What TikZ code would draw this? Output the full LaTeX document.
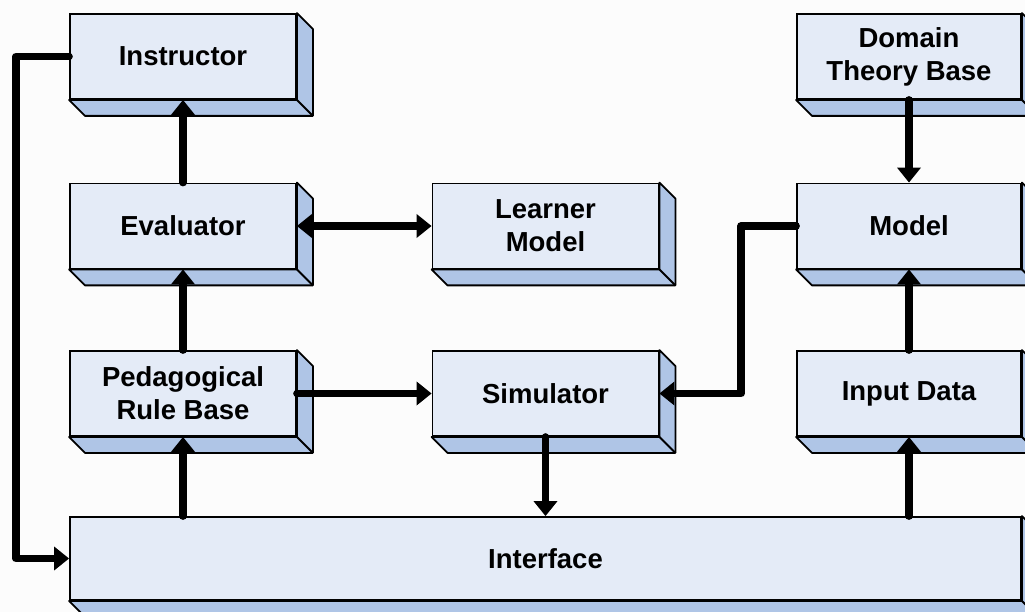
\documentclass[tikz,border=0pt]{standalone}
\usepackage{fontspec}
\setmainfont{Liberation Sans}
\usetikzlibrary{arrows.meta}
\definecolor{face}{HTML}{E4EBF7}
\definecolor{side}{HTML}{AFC5E6}
\definecolor{bg}{HTML}{FCFCFC}
\begin{document}
\begin{tikzpicture}[x=1pt,y=-1pt,
  blk/.style={draw=black, line width=1.8pt, fill=face, align=center,
    font=\fontsize{27.5}{33}\selectfont\bfseries, inner sep=0pt,
    minimum width=226pt, minimum height=85pt},
  sidepart/.style={draw=black, fill=side, line width=1.8pt, line join=round},
  arr/.style={line width=7.5pt, line cap=round, line join=round,
    -{Triangle[length=15pt,width=23pt]}},
  darr/.style={line width=7.5pt, line cap=round, line join=round,
    {Triangle[length=15pt,width=23pt]}-{Triangle[length=15pt,width=23pt]}}]
\useasboundingbox (0,0) rectangle (1025,612);
\clip (0,0) rectangle (1025,612);
\fill[bg] (0,0) rectangle (1025,612);

\node[blk] (instr) at (183,56.5) {Instructor};
\node[blk] (eval) at (183,226) {Evaluator};
\node[blk] (ped) at (183,393.5) {Pedagogical\\Rule Base};
\node[blk] (learn) at (545.5,226) {Learner\\Model};
\node[blk] (sim) at (545.5,393.5) {Simulator};
\node[blk, minimum width=224pt] (dom) at (909,56.5) {Domain\\Theory Base};
\node[blk, minimum width=224pt] (model) at (909,226) {Model};
\node[blk, minimum width=224pt] (input) at (909,393.5) {Input Data};
\node[blk, minimum width=951pt, minimum height=83pt] (iface) at (545.5,558.5) {Interface};

\foreach \n in {instr,eval,ped,learn,sim,dom,model,input,iface}{
  \draw[sidepart] (\n.north east) -- ([shift={(16pt,-16pt)}]\n.north east)
    -- ([shift={(16pt,-16pt)}]\n.south east)
    -- ([shift={(16pt,-16pt)}]\n.south west)
    -- (\n.south west) -- (\n.south east) -- cycle;
  \draw[line width=1.8pt] (\n.south east) -- ([shift={(16pt,-16pt)}]\n.south east);
}

\coordinate (lft) at (16,0);
\coordinate (mid) at (741,0);

\draw[arr] (eval.north) -- (instr.south);
\draw[arr] (ped.north) -- (eval.south);
\draw[arr] (iface.north -| ped.south) -- (ped.south);
\draw[darr] (eval.east) -- (learn.west);
\draw[arr] (ped.east) -- (sim.west);
\draw[arr] (model.west) -- (model.west -| mid) |- (sim.east);
\draw[arr] (sim.south) -- (sim.south |- iface.north);
\draw[arr] (iface.north -| input.south) -- (input.south);
\draw[arr] (input.north) -- (model.south);
\draw[arr] (dom.south) -- (model.north);
\draw[arr] (instr.west) -- (instr.west -| lft) |- (iface.west);
\end{tikzpicture}
\end{document}
